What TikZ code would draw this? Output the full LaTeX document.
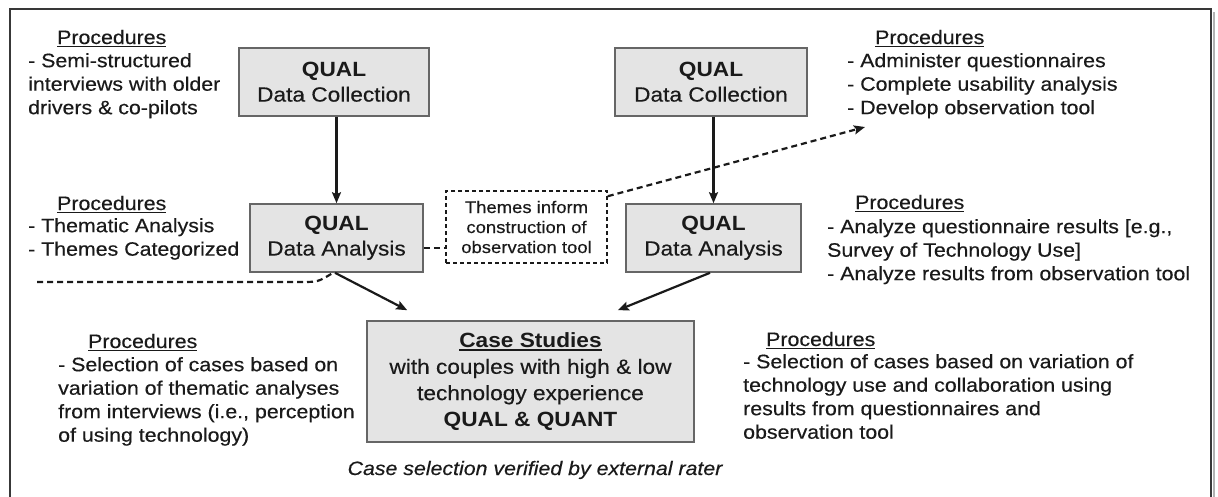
\documentclass[tikz,border=0pt]{standalone}
\usepackage{fontspec}
\setmainfont{Liberation Sans}[FakeStretch=1.1,
  UprightFeatures={FakeBold=0.35}, ItalicFeatures={FakeBold=0.35}]
\usetikzlibrary{arrows.meta,calc}
\definecolor{ink}{HTML}{1A1A1A}
\definecolor{framecol}{HTML}{383838}
\definecolor{boxline}{HTML}{666666}
\definecolor{boxfill}{HTML}{E4E4E4}
\newcommand{\fl}{\rule{0pt}{16pt}}
% underline with a rule a little below the baseline
\newsavebox{\ulbox}
\newcommand{\uln}[1]{\sbox{\ulbox}{#1}\leavevmode\rlap{\rule[-3.2pt]{\wd\ulbox}{1.4pt}}\usebox{\ulbox}}

\begin{document}
\begin{tikzpicture}[x=1pt,y=-1pt,
  txt/.style={inner sep=0pt, text=ink, font=\fontsize{19.4}{23.5}\selectfont},
  head/.style={txt, anchor=base west},
  list/.style={txt, anchor=north west, align=left},
  stage/.style={draw=boxline, fill=boxfill, line width=1.6pt, align=center,
    inner sep=0pt, text=ink, font=\fontsize{20.6}{25}\selectfont},
  note/.style={draw=ink, fill=white, line width=1.6pt, dash pattern=on 4pt off 3pt,
    align=center, inner sep=0pt, text=ink, font=\fontsize{16.8}{20}\selectfont},
  arr/.style={draw=ink, line width=2.2pt, -{Stealth[length=11pt,width=9pt,inset=2pt]}},
  dashline/.style={draw=ink, line width=2.2pt, dash pattern=on 6pt off 4pt},
]
\useasboundingbox (0,0) rectangle (1218,496);
\fill[white] (0,0) rectangle (1218,496);

% outer frame (open at the bottom of the page)
\draw[line width=1.4pt, draw=gray!60] (1214,12) -- (1214,520);
\draw[line width=2.2pt, draw=framecol] (10,9) rectangle (1211,520);

% stage boxes
\node[stage, minimum width=190pt, minimum height=68pt] (dcL) at (334,82)
  {\textbf{QUAL}\\Data Collection};
\node[stage, minimum width=192pt, minimum height=68pt] (dcR) at (711,82)
  {\textbf{QUAL}\\Data Collection};
\node[stage, minimum width=173pt, minimum height=68pt] (daL) at (336.5,238)
  {\textbf{QUAL}\\Data Analysis};
\node[stage, minimum width=175pt, minimum height=68pt] (daR) at (713.5,238)
  {\textbf{QUAL}\\Data Analysis};
\node[note, minimum width=161pt, minimum height=72pt] (themes) at (526.5,227)
  {Themes inform\\construction of\\observation tool};
\node[stage, minimum width=327pt, minimum height=121pt,
  font=\fontsize{20.6}{26.3}\selectfont] (cs) at (530.5,381.5)
  {\textbf{\uln{Case Studies}}\\with couples with high \& low\\technology experience\\\textbf{QUAL \& QUANT}};

% procedure notes
\node[head] (tlh) at (57,44) {\uln{Procedures}};
\node[list] (tl) at (28,51) {\fl- Semi-structured\\interviews with older\\drivers \& co-pilots};
\node[head] (mlh) at (57,210) {\uln{Procedures}};
\node[list] (ml) at (28,216) {\fl- Thematic Analysis\\- Themes Categorized};
\node[head] (trh) at (875,44) {\uln{Procedures}};
\node[list] (tr) at (847,51) {\fl- Administer questionnaires\\- Complete usability analysis\\- Develop observation tool};
\node[head] (mrh) at (855,209) {\uln{Procedures}};
\node[list] (mr) at (827,217) {\fl- Analyze questionnaire results [e.g.,\\Survey of Technology Use]\\- Analyze results from observation tool};
\node[head] (blh) at (88,348) {\uln{Procedures}};
\node[list] (bl) at (58,355) {\fl- Selection of cases based on\\variation of thematic analyses\\from interviews (i.e., perception\\of using technology)};
\node[head] (brh) at (766,346) {\uln{Procedures}};
\node[list] (br) at (743,352) {\fl- Selection of cases based on variation of\\technology use and collaboration using\\results from questionnaires and\\observation tool};

\node[txt, anchor=base, font=\fontsize{19.4}{22}\selectfont\itshape] (cap) at (535,475)
  {Case selection verified by external rater};

% solid flow arrows
\draw[arr] (dcL.south -| daL.north) -- (daL.north);
\draw[arr] (dcR.south -| daR.north) -- (daR.north);
\coordinate (csInL) at ($(cs.north west)+(41,-10)$);
\coordinate (csInR) at ($(cs.north east)+(-77,-10)$);
\draw[arr] ($(daL.south)+(-1.5,0)$) -- (csInL);
\draw[arr] ($(daR.south)+(-3.5,0)$) -- (csInR);

% dashed links
\coordinate (leftEnd) at (37,282);
\coordinate (obsTip) at (865,127);
\draw[dashline] (leftEnd) -- (300,282) .. controls (318,282) .. ($(daL.south)+(-3.5,0)$);
\draw[dashline] ($(daL.east)+(0,10)$) -- ($(themes.west)+(0,21)$);
\draw[dashline, -{Stealth[length=11pt,width=9pt,inset=2pt]}]
  ($(themes.north east)+(0,6)$) -- (obsTip);
\end{tikzpicture}
\end{document}
